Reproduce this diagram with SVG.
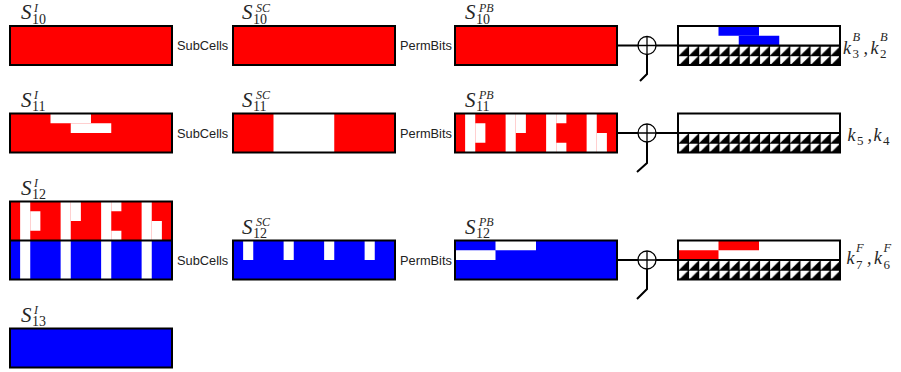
<svg xmlns="http://www.w3.org/2000/svg" xmlns:xlink="http://www.w3.org/1999/xlink" width="901" height="372" viewBox="0 0 901 372">
<style>
.box{fill:none;stroke:#000;stroke-width:2}
.red{fill:#ff0000}
.blue{fill:#0000ff}
.w{fill:#fff}
.op{font-family:"Liberation Sans",Arial,sans-serif;font-size:12.8px;fill:#222}
.lbl{font-family:"Liberation Serif","Times New Roman",serif;fill:#262626}
.S{font-style:italic;font-size:21px}
.sub{font-size:14px}
.sup{font-style:italic;font-size:12px}
.k{font-style:italic;font-size:18px}
.ksub{font-size:13px}
.ksup{font-style:italic;font-size:12.5px}
.ln{stroke:#000;stroke-width:2;fill:none}
.xo{stroke:#000;stroke-width:1.3;fill:#fff}
</style>
<defs>
<pattern id="hatch" patternUnits="userSpaceOnUse" width="10.125" height="9.75">
<rect width="10.125" height="9.75" fill="#fff"/>
<path d="M1.2,9.75 L10.125,0.9 L10.125,9.75 Z" fill="#000"/>
<path d="M0,0 H10.125 M0,0 V9.75" stroke="#000" stroke-width="2"/>
</pattern>
<g id="pb">
<rect class="w" x="10.125" y="0" width="10.125" height="39"/>
<rect class="w" x="20.25" y="9.75" width="10.125" height="19.5"/>
<rect class="w" x="50.625" y="0" width="10.125" height="39"/>
<rect class="w" x="60.75" y="0" width="10.125" height="19.5"/>
<rect class="w" x="91.125" y="0" width="10.125" height="39"/>
<rect class="w" x="101.25" y="0" width="10.125" height="9.75"/>
<rect class="w" x="101.25" y="29.25" width="10.125" height="9.75"/>
<rect class="w" x="131.625" y="0" width="10.125" height="39"/>
<rect class="w" x="141.75" y="19.5" width="10.125" height="19.5"/>
</g>
<g id="hstrip">
<rect x="0" y="0" width="162" height="19.5" fill="url(#hatch)"/>
</g>
</defs>

<!-- Row 1 -->
<g id="s10i">
<rect class="red" x="10" y="26" width="162" height="39"/>
<rect class="box" x="10" y="26" width="162" height="39"/>
<text class="lbl"><tspan class="S" x="21" y="19">S</tspan><tspan class="sub" x="32" y="23.5">10</tspan><tspan class="sup" x="34" y="11.5">I</tspan></text>
</g>
<g id="s10sc">
<rect class="red" x="233" y="26" width="162" height="39"/>
<rect class="box" x="233" y="26" width="162" height="39"/>
<text class="lbl"><tspan class="S" x="242" y="19">S</tspan><tspan class="sub" x="253" y="23.5">10</tspan><tspan class="sup" x="256" y="11.5">SC</tspan></text>
</g>
<g id="s10pb">
<rect class="red" x="455" y="26" width="162" height="39"/>
<rect class="box" x="455" y="26" width="162" height="39"/>
<text class="lbl"><tspan class="S" x="465" y="19">S</tspan><tspan class="sub" x="476" y="23.5">10</tspan><tspan class="sup" x="479" y="11.5">PB</tspan></text>
</g>
<g id="key1">
<rect class="w" x="678" y="26" width="162" height="19.5"/>
<rect class="blue" x="718.5" y="26" width="40.5" height="9.75"/>
<rect class="blue" x="738.75" y="35.75" width="40.5" height="9.75"/>
<use xlink:href="#hstrip" transform="translate(678,45.5)"/>
<rect class="box" x="678" y="26" width="162" height="39"/>
<line class="ln" x1="678" y1="45.5" x2="840" y2="45.5"/>
<text class="lbl"><tspan class="k" x="843" y="53.5">k</tspan><tspan class="ksub" x="852.5" y="58">3</tspan><tspan class="ksup" x="852.5" y="41">B</tspan><tspan class="k" x="863.5" y="53.5">,</tspan><tspan class="k" x="870.5" y="53.5">k</tspan><tspan class="ksub" x="880" y="58">2</tspan><tspan class="ksup" x="880" y="41">B</tspan></text>
</g>
<g id="xor1">
<circle class="xo" cx="647" cy="45.5" r="9"/>
<path d="M638,45.5 H656 M647,36.5 V54.5" stroke="#000" stroke-width="1.3"/>
</g>

<!-- Row 2 -->
<g id="s11i">
<rect class="red" x="10" y="113.5" width="162" height="39"/>
<rect class="w" x="50.5" y="113.5" width="40.5" height="9.75"/>
<rect class="w" x="70.75" y="123.25" width="40.5" height="9.75"/>
<rect class="box" x="10" y="113.5" width="162" height="39"/>
<text class="lbl"><tspan class="S" x="21" y="106.5">S</tspan><tspan class="sub" x="32" y="111">11</tspan><tspan class="sup" x="34" y="98.5">I</tspan></text>
</g>
<g id="s11sc">
<rect class="red" x="233" y="113.5" width="162" height="39"/>
<rect class="w" x="273.5" y="113.5" width="60.75" height="39"/>
<rect class="box" x="233" y="113.5" width="162" height="39"/>
<text class="lbl"><tspan class="S" x="242" y="106.5">S</tspan><tspan class="sub" x="253" y="111">11</tspan><tspan class="sup" x="256" y="98.5">SC</tspan></text>
</g>
<g id="s11pb">
<rect class="red" x="455" y="113.5" width="162" height="39"/>
<use xlink:href="#pb" transform="translate(455,113.5)"/>
<rect class="box" x="455" y="113.5" width="162" height="39"/>
<text class="lbl"><tspan class="S" x="465" y="106.5">S</tspan><tspan class="sub" x="476" y="111">11</tspan><tspan class="sup" x="479" y="98.5">PB</tspan></text>
</g>
<g id="key2">
<rect class="w" x="678" y="113.5" width="162" height="19.5"/>
<use xlink:href="#hstrip" transform="translate(678,133)"/>
<rect class="box" x="678" y="113.5" width="162" height="39"/>
<line class="ln" x1="678" y1="133" x2="840" y2="133"/>
<text class="lbl"><tspan class="k" x="847.5" y="140.5">k</tspan><tspan class="ksub" x="857" y="145">5</tspan><tspan class="k" x="867.5" y="140.5">,</tspan><tspan class="k" x="873.5" y="140.5">k</tspan><tspan class="ksub" x="883" y="145">4</tspan></text>
</g>
<g id="xor2">
<circle class="xo" cx="647" cy="133" r="9"/>
<path d="M638,133 H656 M647,124 V142" stroke="#000" stroke-width="1.3"/>
</g>

<!-- Row 3 -->
<g id="s12i">
<rect class="red" x="10" y="201.5" width="162" height="39"/>
<use xlink:href="#pb" transform="translate(10,201.5)"/>
<rect class="blue" x="10" y="240.5" width="162" height="39"/>
<rect class="w" x="20.125" y="240.5" width="10.125" height="39"/>
<rect class="w" x="60.625" y="240.5" width="10.125" height="39"/>
<rect class="w" x="101.125" y="240.5" width="10.125" height="39"/>
<rect class="w" x="141.625" y="240.5" width="10.125" height="39"/>
<rect class="box" x="10" y="201.5" width="162" height="78"/>
<line class="ln" x1="10" y1="240.5" x2="172" y2="240.5"/>
<text class="lbl"><tspan class="S" x="21" y="194.5">S</tspan><tspan class="sub" x="32" y="199">12</tspan><tspan class="sup" x="34" y="186.5">I</tspan></text>
</g>
<g id="s12sc">
<rect class="blue" x="233" y="240.5" width="162" height="39"/>
<rect class="w" x="243.125" y="240.5" width="10.125" height="19.5"/>
<rect class="w" x="283.625" y="240.5" width="10.125" height="19.5"/>
<rect class="w" x="324.125" y="240.5" width="10.125" height="19.5"/>
<rect class="w" x="364.625" y="240.5" width="10.125" height="19.5"/>
<rect class="box" x="233" y="240.5" width="162" height="39"/>
<text class="lbl"><tspan class="S" x="242" y="233.5">S</tspan><tspan class="sub" x="253" y="238">12</tspan><tspan class="sup" x="256" y="225.5">SC</tspan></text>
</g>
<g id="s12pb">
<rect class="blue" x="455" y="240.5" width="162" height="39"/>
<rect class="w" x="495.5" y="240.5" width="40.5" height="9.75"/>
<rect class="w" x="455" y="250.25" width="40.5" height="9.75"/>
<rect class="box" x="455" y="240.5" width="162" height="39"/>
<text class="lbl"><tspan class="S" x="465" y="233.5">S</tspan><tspan class="sub" x="476" y="238">12</tspan><tspan class="sup" x="479" y="225.5">PB</tspan></text>
</g>
<g id="key3">
<rect class="w" x="678" y="240.5" width="162" height="19.5"/>
<rect class="red" x="718.5" y="240.5" width="40.5" height="9.75"/>
<rect class="red" x="678" y="250.25" width="40.5" height="9.75"/>
<use xlink:href="#hstrip" transform="translate(678,260)"/>
<rect class="box" x="678" y="240.5" width="162" height="39"/>
<line class="ln" x1="678" y1="260" x2="840" y2="260"/>
<text class="lbl"><tspan class="k" x="846.5" y="264">k</tspan><tspan class="ksub" x="856" y="268.5">7</tspan><tspan class="ksup" x="856" y="251.5">F</tspan><tspan class="k" x="867" y="264">,</tspan><tspan class="k" x="874" y="264">k</tspan><tspan class="ksub" x="883.5" y="268.5">6</tspan><tspan class="ksup" x="883.5" y="251.5">F</tspan></text>
</g>
<g id="xor3">
<circle class="xo" cx="647" cy="260" r="9"/>
<path d="M638,260 H656 M647,251 V269" stroke="#000" stroke-width="1.3"/>
</g>

<!-- Row 4 -->
<g id="s13i">
<rect class="blue" x="10" y="328.5" width="162" height="39"/>
<rect class="box" x="10" y="328.5" width="162" height="39"/>
<text class="lbl"><tspan class="S" x="21" y="321.5">S</tspan><tspan class="sub" x="32" y="326">13</tspan><tspan class="sup" x="34" y="313.5">I</tspan></text>
</g>

<!-- operation labels -->
<g id="ops">
<text class="op" x="177" y="50">SubCells</text>
<text class="op" x="400" y="50">PermBits</text>
<text class="op" x="177" y="137.5">SubCells</text>
<text class="op" x="400" y="137.5">PermBits</text>
<text class="op" x="177" y="264.5">SubCells</text>
<text class="op" x="400" y="264.5">PermBits</text>
</g>

<!-- connectors -->
<g id="connectors">
<path class="ln" d="M617,45.5 H638 M656,45.5 H678"/>
<path class="ln" d="M647,54.5 V74 L640,81"/>
<path class="ln" d="M617,133 H638 M656,133 H678"/>
<path class="ln" d="M647,142 V163 L637,172"/>
<path class="ln" d="M617,260 H638 M656,260 H678"/>
<path class="ln" d="M647,269 V289 L637,299"/>
</g>
</svg>
